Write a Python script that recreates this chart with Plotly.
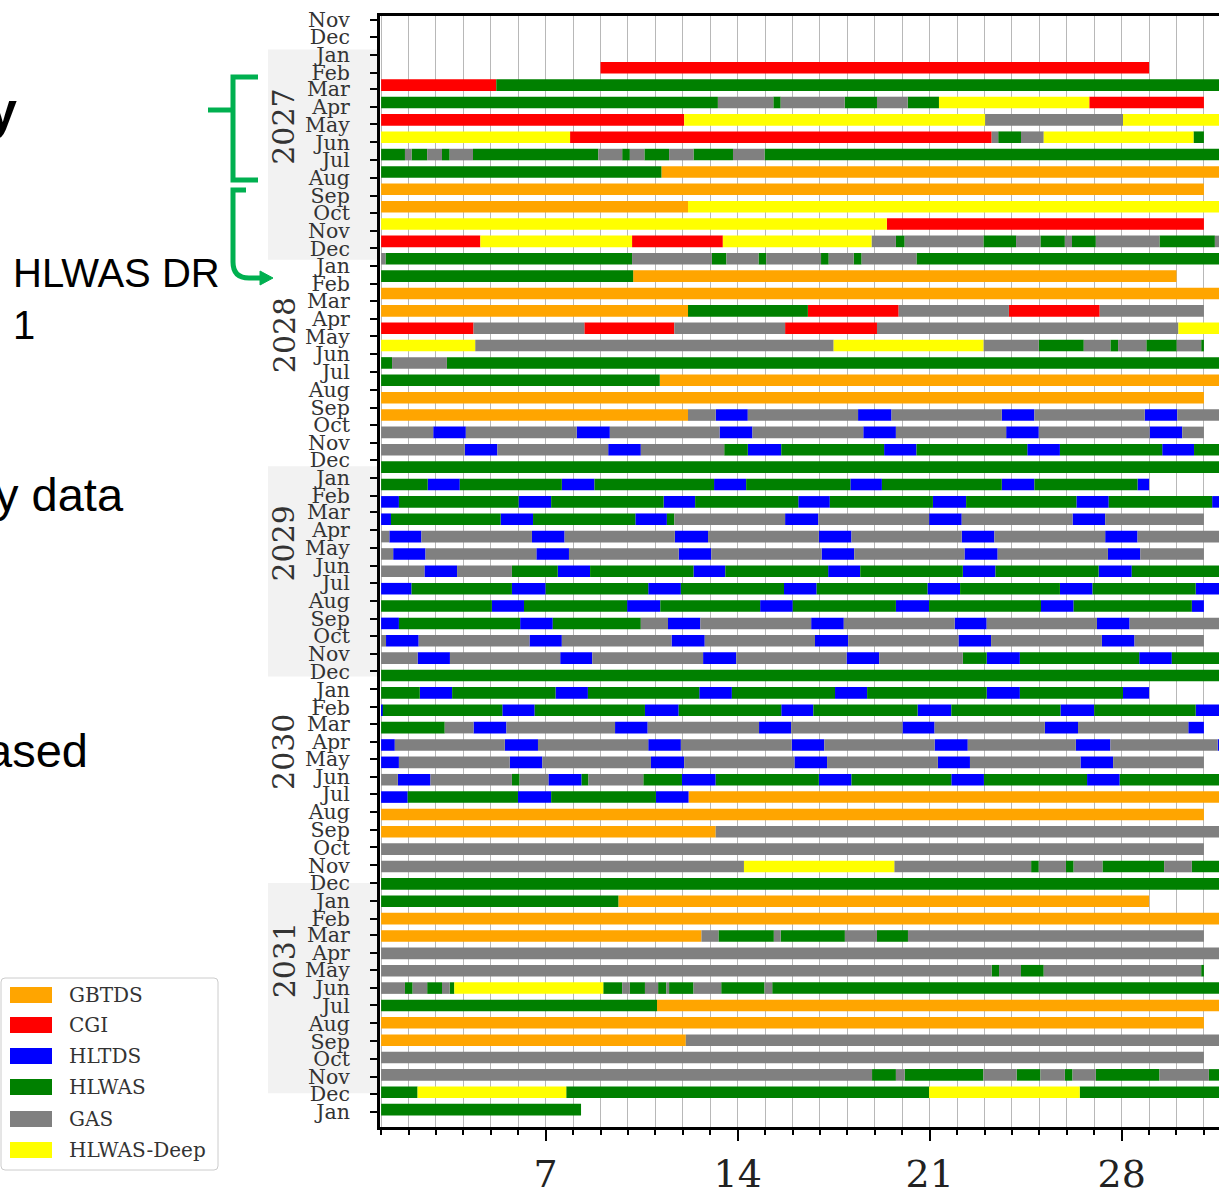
import plotly.graph_objects as go
import pandas as pd

W, H = 1219, 1192

# ---------------- data ----------------
categories = ["GBTDS", "CGI", "HLTDS", "HLWAS", "GAS", "HLWAS-Deep"]
codes = ["O", "R", "B", "G", "A", "Y"]
colors = ["orange", "red", "blue", "green", "gray", "yellow"]

first_tick_month = "2026-11-01"
last_tick_month = "2032-01-01"
first_bar_month = "2027-02-01"

# each entry: segments "code:end_day" (start of month = day 1; '-' = empty)
schedule = [
    "-:9 R:29",                                                               # Feb 2027
    "R:5.2 G:32",                                                             # Mar
    "G:13.28 A:15.3 G:15.57 A:17.9 G:19.08 A:20.2 G:21.34 Y:26.82 R:31",      # Apr
    "R:12.05 Y:23.02 A:28.05 Y:32",                                           # May
    "Y:7.89 R:23.26 A:23.5 G:24.33 A:25.16 Y:30.62 G:31",                     # Jun
    "G:1.87 A:2.11 G:2.68 A:3.22 G:3.5 A:4.35 G:8.92 A:9.79 G:10.07 A:10.6 G:11.5 A:12.39 G:13.83 A:14.98 G:32",  # Jul
    "G:11.22 O:32",                                                           # Aug
    "O:31",                                                                   # Sep
    "O:12.19 Y:32",                                                           # Oct
    "Y:19.44 R:31",                                                           # Nov
    "R:4.62 Y:10.15 R:13.46 Y:18.88 A:19.77 G:20.09 A:22.96 G:24.15 A:25.04 G:25.93 A:26.19 G:27.06 A:29.38 G:31.4 A:32",  # Dec
    "A:1.16 G:10.15 A:13.06 G:13.59 A:14.76 G:15.04 A:17.04 G:17.32 A:18.23 G:18.52 A:20.52 G:32",  # Jan 2028
    "G:10.19 O:30",                                                           # Feb
    "O:32",                                                                   # Mar
    "O:12.19 G:16.56 R:19.87 A:23.89 R:27.2 A:31",                            # Apr
    "R:4.37 A:8.41 R:11.69 A:15.73 R:19.08 A:30.07 Y:32",                     # May
    "Y:4.43 A:17.5 Y:22.96 A:24.98 G:26.62 A:27.59 G:27.87 A:28.9 G:30.01 A:30.9 G:31",  # Jun
    "G:1.4 A:3.4 G:32",                                                       # Jul
    "G:11.16 O:32",                                                           # Aug
    "O:31",                                                                   # Sep
    "O:12.19 A:13.2 B:14.37 A:18.39 B:19.61 A:23.63 B:24.82 A:28.84 B:30.03 A:32",  # Oct
    "A:2.9 B:4.09 A:8.13 B:9.34 A:13.34 B:14.54 A:18.58 B:19.77 A:23.79 B:24.98 A:29.02 B:30.21 A:31",  # Nov
    "A:4.05 B:5.24 A:9.28 B:10.47 A:13.51 G:14.37 B:15.59 G:19.34 B:20.52 G:24.56 B:25.75 G:29.48 B:30.64 G:32",  # Dec
    "G:32",                                                                   # Jan 2029
    "G:2.7 B:3.87 G:7.59 B:8.78 G:13.14 B:14.31 G:18.11 B:19.26 G:23.63 B:24.82 G:28.58 B:29",  # Feb
    "B:1.65 G:6.01 B:7.2 G:11.3 B:12.45 G:16.21 B:17.36 G:21.12 B:22.33 G:26.35 B:27.53 G:31.3 B:32",  # Mar
    "B:1.36 G:5.36 B:6.54 G:10.27 B:11.42 G:11.69 A:15.73 B:16.94 A:20.98 B:22.17 A:26.21 B:27.4 A:31",  # Apr
    "A:1.3 B:2.47 A:6.5 B:7.69 A:11.71 B:12.92 A:16.96 B:18.15 A:22.17 B:23.36 A:27.4 B:28.58 A:32",  # May
    "A:1.44 B:2.62 A:6.66 B:7.85 A:11.85 B:13.04 A:17.06 B:18.25 A:22.27 B:23.48 A:27.5 B:28.68 A:31",  # Jun
    "A:2.58 B:3.77 A:5.77 G:7.44 B:8.62 G:12.39 B:13.55 G:17.3 B:18.47 G:22.21 B:23.4 G:27.16 B:28.37 G:32",  # Jul
    "B:2.11 G:5.77 B:7.0 G:10.74 B:11.93 G:15.69 B:16.88 G:20.92 B:22.11 G:25.75 B:26.94 G:30.7 B:32",  # Aug
    "G:5.04 B:6.21 G:9.97 B:11.18 G:14.82 B:16.01 G:19.77 B:20.98 G:25.06 B:26.25 G:30.56 B:31",  # Sep
    "B:1.65 G:6.07 B:7.26 G:10.47 A:11.46 B:12.64 A:16.68 B:17.87 A:21.91 B:23.08 A:27.1 B:28.29 A:32",  # Oct
    "A:1.18 B:2.37 A:6.41 B:7.59 A:11.59 B:12.8 A:16.82 B:18.03 A:22.05 B:23.24 A:27.28 B:28.47 A:31",  # Nov
    "A:2.33 B:3.51 A:7.53 B:8.7 A:12.74 B:13.95 A:17.97 B:19.16 A:22.21 G:23.08 B:24.29 G:28.64 B:29.83 G:32",  # Dec
    "G:32",                                                                   # Jan 2030
    "G:2.41 B:3.59 G:7.36 B:8.54 G:12.6 B:13.79 G:17.55 B:18.72 G:23.08 B:24.29 G:28.05 B:29",  # Feb
    "B:1.06 G:5.42 B:6.6 G:10.62 B:11.85 G:15.59 B:16.76 G:20.56 B:21.79 G:25.77 B:27.0 G:30.7 B:32",  # Mar
    "G:3.32 A:4.37 B:5.57 A:9.53 B:10.72 A:14.78 B:15.95 A:20.01 B:21.18 A:25.2 B:26.41 A:30.43 B:31",  # Apr
    "B:1.5 A:5.51 B:6.72 A:10.74 B:11.93 A:15.97 B:17.16 A:21.18 B:22.39 A:26.33 B:27.59 A:31.5 B:32",  # May
    "B:1.65 A:5.69 B:6.88 A:10.84 B:12.05 A:16.07 B:17.26 A:21.3 B:22.47 A:26.5 B:27.69 A:31",  # Jun
    "A:1.61 B:2.8 A:5.77 G:6.05 A:7.1 B:8.31 G:8.56 A:10.56 G:11.97 B:13.2 G:16.96 B:18.15 G:21.79 B:22.98 G:26.74 B:27.93 G:32",  # Jul
    "B:1.97 G:5.99 B:7.2 G:11.02 B:12.21 O:32",                               # Aug
    "O:31",                                                                   # Sep
    "O:13.2 A:32",                                                            # Oct
    "A:31",                                                                   # Nov
    "A:14.23 Y:19.71 A:24.7 G:24.98 A:25.97 G:26.25 A:27.3 G:29.55 A:30.56 G:32",  # Dec
    "G:32",                                                                   # Jan 2031
    "G:9.65 O:29",                                                            # Feb
    "O:32",                                                                   # Mar
    "O:12.68 A:13.3 G:15.32 A:15.57 G:17.91 A:19.08 G:20.21 A:31",            # Apr
    "A:32",                                                                   # May
    "A:23.26 G:23.53 A:24.33 G:25.16 A:30.9 G:31",                            # Jun
    "A:1.87 G:2.15 A:2.68 G:3.22 A:3.5 G:3.67 Y:9.1 G:9.79 A:10.07 G:10.62 A:11.1 G:11.4 A:11.5 G:12.39 A:13.4 G:14.98 A:15.26 G:32",  # Jul
    "G:11.06 O:32",                                                           # Aug
    "O:31",                                                                   # Sep
    "O:12.11 A:32",                                                           # Oct
    "A:31",                                                                   # Nov
    "A:18.9 G:19.77 A:20.09 G:22.96 A:24.17 G:25.04 A:25.93 G:26.21 A:27.06 G:29.38 A:31.18 G:32",  # Dec
    "G:2.33 Y:7.75 G:20.98 Y:26.47 G:32",                                     # Jan 2032
    "G:8.29",                                                                 # Feb
]

year_labels = ["2027", "2028", "2029", "2030", "2031"]
shaded_years = [2027, 2029, 2031]
x_tick_vals = [7, 14, 21, 28]

# ---------------- helpers ----------------
t0 = pd.Timestamp(first_tick_month)
tick_dates = pd.date_range(first_tick_month, last_tick_month, freq="MS")
tick_pos = [(d - t0).days for d in tick_dates]
tick_text = [d.strftime("%b") for d in tick_dates]

ROW0, ROWSTEP, BARW = 83.0, 30.0, 20.0   # bar rows every 30 days on the date axis


def row_y(k):
    return ROW0 + ROWSTEP * k


def px(x):
    return x / W


def py(y):
    return 1 - y / H


seg = {c: dict(y=[], base=[], x=[]) for c in codes}
for k, s in enumerate(schedule):
    start = 1.0
    for tok in s.split():
        c, e = tok.split(":")
        e = float(e)
        if c != "-":
            seg[c]["y"].append(row_y(k))
            seg[c]["base"].append(start)
            seg[c]["x"].append(e - start)
        start = e

fig = go.Figure()
for name, c, col in zip(categories, codes, colors):
    fig.add_trace(go.Bar(
        name=name, orientation="h", y=seg[c]["y"], x=seg[c]["x"], base=seg[c]["base"],
        width=BARW, marker=dict(color=col, line=dict(width=0)), showlegend=False,
    ))

serif = "DejaVu Serif"
fig.update_layout(
    width=W, height=H, margin=dict(l=0, r=0, t=0, b=0, autoexpand=False),
    paper_bgcolor="white", plot_bgcolor="white", barmode="overlay",
    xaxis=dict(
        domain=[380 / W, 1], range=[0.96, 31.55], tickmode="array", tickvals=x_tick_vals,
        ticks="outside", ticklen=11, tickwidth=1.5, tickcolor="black", automargin=False,
        showline=True, linewidth=3, linecolor="black", mirror=True,
        showgrid=True, gridcolor="#b8b8b8", gridwidth=1, zeroline=False,
        minor=dict(dtick=1, tick0=0, ticks="outside", ticklen=5, tickcolor="black",
                   showgrid=True, gridcolor="#b8b8b8", gridwidth=1),
        tickfont=dict(family=serif, size=38, color="#222"),
    ),
    yaxis=dict(
        domain=[1 - 1127 / H, 1 - 16 / H], range=[1913, -6.4], tickmode="array",
        tickvals=tick_pos, ticktext=tick_text, ticks="outside", ticklen=7, automargin=False,
        tickcolor="black", tickwidth=1.5, showline=True, linewidth=3, linecolor="black",
        showgrid=False, zeroline=False, ticklabelstandoff=16,
        tickfont=dict(family=serif, size=20.5, color="#333"),
    ),
)

shapes = []
annotations = []
# shaded year bands and year labels
for i, yl in enumerate(year_labels):
    yr = int(yl)
    if yr in shaded_years:
        shapes.append(dict(type="rect", xref="paper", yref="y", x0=px(268), x1=px(378),
                           y0=row_y(12 * i - 1.05), y1=row_y(12 * i + 11.05),
                           fillcolor="#f2f2f2", line=dict(width=0), layer="below"))
    annotations.append(dict(xref="paper", yref="y", x=px(284), y=row_y(3.4 + 12 * i), text=yl,
                            textangle=-90, showarrow=False, xanchor="center", yanchor="middle",
                            font=dict(family=serif, size=30, color="#333")))

# legend (drawn manually)
r = 4
lx0, lx1, ly0, ly1 = 1, 218, 978, 1170
path = (f"M {px(lx0 + r)},{py(ly0)} L {px(lx1 - r)},{py(ly0)} Q {px(lx1)},{py(ly0)} {px(lx1)},{py(ly0 + r)} "
        f"L {px(lx1)},{py(ly1 - r)} Q {px(lx1)},{py(ly1)} {px(lx1 - r)},{py(ly1)} "
        f"L {px(lx0 + r)},{py(ly1)} Q {px(lx0)},{py(ly1)} {px(lx0)},{py(ly1 - r)} "
        f"L {px(lx0)},{py(ly0 + r)} Q {px(lx0)},{py(ly0)} {px(lx0 + r)},{py(ly0)} Z")
shapes.append(dict(type="path", xref="paper", yref="paper", path=path,
                   fillcolor="white", line=dict(color="#cccccc", width=1)))
leg_y = [995, 1025, 1056, 1087, 1119, 1150]
for name, col, yy in zip(categories, colors, leg_y):
    shapes.append(dict(type="rect", xref="paper", yref="paper", x0=px(10), x1=px(52),
                       y0=py(yy + 8), y1=py(yy - 8), fillcolor=col, line=dict(width=0)))
    annotations.append(dict(xref="paper", yref="paper", x=px(67), y=py(yy), text=name,
                            showarrow=False, xanchor="left", yanchor="middle",
                            font=dict(family=serif, size=20, color="#333")))

# slide fragments on the left
sans = "Liberation Sans"
annotations += [
    dict(xref="paper", yref="paper", x=px(19), y=py(110), text="<b>y</b>", showarrow=False,
         xanchor="right", yanchor="middle", font=dict(family=sans, size=52, color="black")),
    dict(xref="paper", yref="paper", x=px(11), y=py(273), text="HLWAS DR", showarrow=False,
         xanchor="left", yanchor="middle", font=dict(family=sans, size=40, color="black")),
    dict(xref="paper", yref="paper", x=px(11), y=py(325), text="1", showarrow=False,
         xanchor="left", yanchor="middle", font=dict(family=sans, size=40, color="black")),
    dict(xref="paper", yref="paper", x=px(126), y=py(495), text="y data", showarrow=False,
         xanchor="right", yanchor="middle", font=dict(family=sans, size=47, color="black")),
    dict(xref="paper", yref="paper", x=px(90), y=py(750), text="ased", showarrow=False,
         xanchor="right", yanchor="middle", font=dict(family=sans, size=47, color="black")),
]

# green brackets / arrow
gc = "#00b050"
def P(pts):
    return " ".join(("M" if i == 0 else "L") + f" {px(a)},{py(b)}" for i, (a, b) in enumerate(pts))

shapes.append(dict(type="path", xref="paper", yref="paper", line=dict(color=gc, width=5),
                   path=P([(258, 77), (233, 77), (233, 180), (258, 180)])))
shapes.append(dict(type="path", xref="paper", yref="paper", line=dict(color=gc, width=5),
                   path=P([(208, 110), (233, 110)])))
shapes.append(dict(type="path", xref="paper", yref="paper", line=dict(color=gc, width=5),
                   path=P([(246, 190), (233, 190), (233, 262)]) +
                   f" Q {px(233)},{py(278)} {px(249)},{py(278)} L {px(262)},{py(278)}"))
shapes.append(dict(type="path", xref="paper", yref="paper", line=dict(color=gc, width=1),
                   fillcolor=gc,
                   path=P([(260, 271), (273, 278), (260, 285)]) + " Z"))

fig.update_layout(shapes=shapes, annotations=annotations)
fig.write_html(
    "out.html",
    config={"displayModeBar": False},
    post_script="document.documentElement.style.margin='0';document.body.style.margin='0';"
                "document.body.style.overflow='hidden';",
)
